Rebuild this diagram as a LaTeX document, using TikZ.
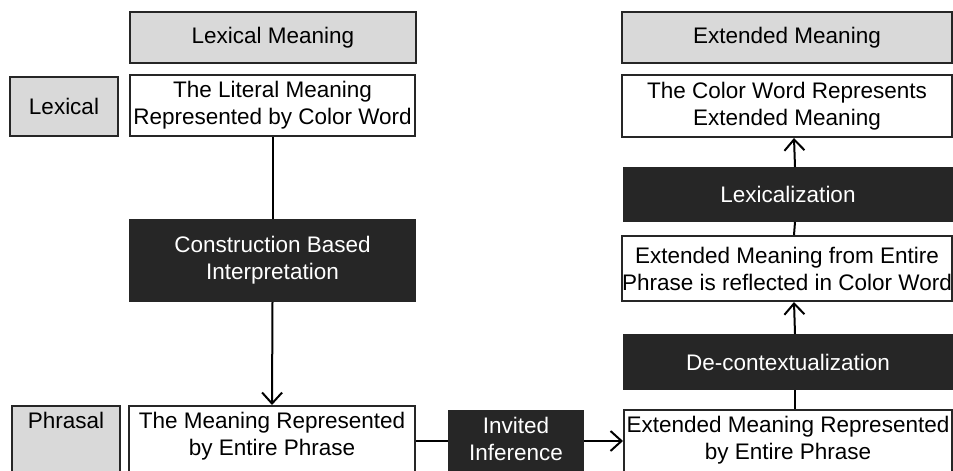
\documentclass[tikz,border=0pt]{standalone}
\usepackage{fontspec}
\setmainfont{Liberation Sans}
\usetikzlibrary{arrows.meta}
\definecolor{headgray}{HTML}{D9D9D9}
\definecolor{boxdark}{HTML}{262626}
\begin{document}
\begin{tikzpicture}[
    x=1pt, y=-1pt,
    box/.style={draw=black!85, line width=2pt, inner sep=0pt, align=center,
      font=\fontsize{22.5}{27}\selectfont},
    headbox/.style={box, fill=headgray},
    textbox/.style={box, fill=white},
    darkbox/.style={box, fill=boxdark, text=white},
    cutbox/.style={anchor=north, inner ysep=6pt, text depth=50pt},
    link/.style={line width=2pt},
    arrow/.style={link, -{Straight Barb[length=11pt, width=20pt]}}
  ]
  \useasboundingbox (0,0) rectangle (953,471);
  \clip (0,0) rectangle (953,471);
  % left column
  \node[headbox, minimum width=286pt, minimum height=51pt] (lexhead) at (273,37.5) {Lexical Meaning};
  \node[headbox, minimum width=108pt, minimum height=59pt] (lexlabel) at (64,106.5) {Lexical};
  \node[textbox, minimum width=285pt, minimum height=61pt] (literal) at (272.5,105.5)
    {The Literal Meaning\\Represented by Color Word};
  \node[darkbox, minimum width=285pt, minimum height=81pt] (constr) at (272.5,260.5)
    {Construction Based\\Interpretation};
  \node[headbox, cutbox, minimum width=108pt] (phrlabel) at (66,405) {Phrasal};
  \node[textbox, cutbox, minimum width=286pt] (phrase) at (272,405)
    {The Meaning Represented\\by Entire Phrase};
  \node[darkbox, cutbox, minimum width=134pt] (invited) at (516,410)
    {Invited\\Inference};
  % right column
  \node[headbox, minimum width=330pt, minimum height=51pt] (exthead) at (787,37.5) {Extended Meaning};
  \node[textbox, minimum width=330pt, minimum height=62pt] (colorword) at (787,106)
    {The Color Word Represents\\Extended Meaning};
  \node[darkbox, minimum width=328pt, minimum height=53pt] (lexlz) at (788,194.5) {Lexicalization};
  \node[textbox, minimum width=330pt, minimum height=65pt] (extfrom) at (787,268.5)
    {Extended Meaning from Entire\\Phrase is reflected in Color Word};
  \node[darkbox, minimum width=328pt, minimum height=54pt] (decon) at (788,362) {De-contextualization};
  \node[textbox, cutbox, minimum width=328pt] (extphrase) at (788,409)
    {Extended Meaning Represented\\by Entire Phrase};
  % connectors
  \coordinate (mid) at (0,441);
  \draw[link] (literal.south) -- (constr.north);
  \draw[arrow] (constr.south) -- (phrase.north);
  \draw[link] (phrase.east |- mid) -- (invited.west |- mid);
  \draw[arrow] (invited.east |- mid) -- (extphrase.west |- mid);
  \draw[link] ([xshift=7pt]extphrase.north) -- ([xshift=7pt]decon.south);
  \draw[arrow] ([xshift=7pt]decon.north) -- ([xshift=7pt]extfrom.south);
  \draw[link] ([xshift=7pt]extfrom.north) -- ([xshift=7pt]lexlz.south);
  \draw[arrow] ([xshift=7pt]lexlz.north) -- ([xshift=7pt]colorword.south);
\end{tikzpicture}
\end{document}
